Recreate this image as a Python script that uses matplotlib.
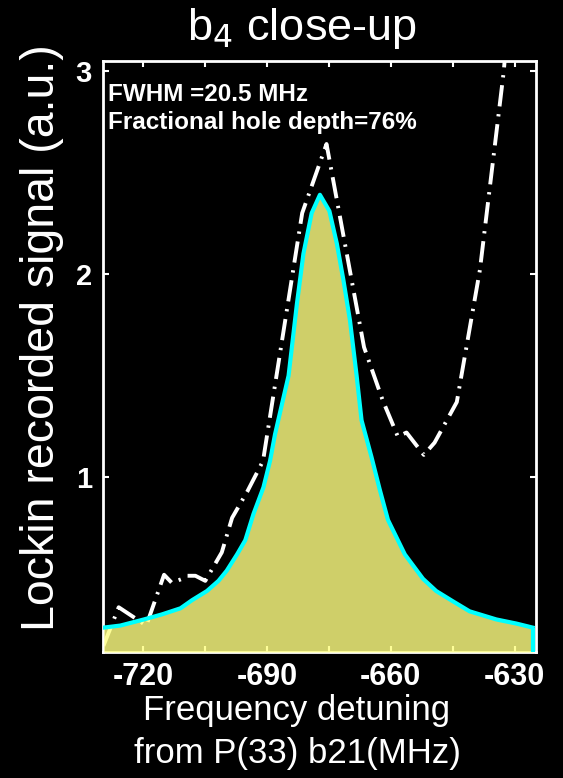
import matplotlib.pyplot as plt
from matplotlib.ticker import MultipleLocator

# fitted hole profile (cyan outline, filled)
fit_freq = [-729.6, -725.6, -719.9, -715.5, -711, -708.2, -704.6, -701.8, -699.8, -697.3,
            -695.3, -693.3, -690.9, -689.3, -688.1, -686.4, -684.8, -682.8, -681.2, -679.2,
            -677.2, -674.9, -673.1, -671.5, -669.9, -668.3, -667.1, -664.7, -662.7, -660.7,
            -656.6, -652.2, -649, -645, -640.9, -634.4, -629.6, -625.6]
fit_signal = [0.26, 0.27, 0.30, 0.325, 0.355, 0.395, 0.44, 0.49, 0.54, 0.62,
              0.69, 0.82, 0.95, 1.08, 1.21, 1.36, 1.50, 1.85, 2.10, 2.30,
              2.39, 2.31, 2.15, 1.97, 1.77, 1.50, 1.28, 1.10, 0.94, 0.79,
              0.62, 0.50, 0.44, 0.39, 0.34, 0.30, 0.28, 0.26]

# measured lockin trace (dash-dot)
meas_freq = [-729.7, -726.0, -719.3, -715.0, -713.1, -710.6, -709.5, -707.4, -705.0,
             -701.0, -698.5, -694.8, -691.0, -681.5, -675.6, -666.5, -662.0, -658.3,
             -656.2, -652.0, -649.4, -644.0, -638.4, -632.6, -631.4]
meas_signal = [0.17, 0.36, 0.27, 0.52, 0.48, 0.50, 0.515, 0.515, 0.49,
               0.63, 0.80, 0.93, 1.08, 2.30, 2.64, 1.64, 1.38, 1.20,
               1.22, 1.11, 1.17, 1.37, 2.02, 3.00, 3.30]

x_ticks = [-720, -690, -660, -630]
y_ticks = [1, 2, 3]
xlim = (-729.8, -624.8)
ylim = (0.14, 3.05)

plt.rcParams['font.family'] = ['Liberation Sans', 'DejaVu Sans']
plt.rcParams['axes.unicode_minus'] = False

fig = plt.figure(figsize=(5.63, 7.78), dpi=100, facecolor='black')
ax = fig.add_axes([0.183, 0.162, 0.769, 0.760])
ax.set_facecolor('black')

ax.plot(meas_freq, meas_signal, color='white', lw=2.8, dashes=(5.5, 2.0, 0.6, 2.0), zorder=2)
# semi-transparent fill sits over the white spine and trace
ax.fill_between(fit_freq, ylim[0], fit_signal, color='#fefe81', alpha=0.82, lw=0, zorder=3)
ax.plot(fit_freq, fit_signal, color='#00ffff', lw=3, zorder=4)
ax.vlines(fit_freq[-1], ylim[0], fit_signal[-1], color='#00ffff', lw=3, zorder=4)

ax.set_xlim(*xlim)
ax.set_ylim(*ylim)
ax.set_xticks(x_ticks)
ax.xaxis.set_minor_locator(MultipleLocator(15))
ax.set_yticks(y_ticks)

for s in ax.spines.values():
    s.set_color('white')
    s.set_linewidth(2)
ax.tick_params(which='both', direction='in', color='white', length=4, width=1.5,
               top=True, right=True, labelcolor='white', pad=7)
ax.tick_params(axis='x', which='major', labelsize=22)
ax.tick_params(axis='y', which='major', labelsize=21, pad=8)
for lab in ax.get_xticklabels() + ax.get_yticklabels():
    lab.set_fontweight('bold')

fig.text(0.536, 0.9486, 'b$_4$ close-up', color='white', fontsize=32.5,
         ha='center', va='baseline')
ax.set_ylabel('Lockin recorded signal (a.u.)', color='white', fontsize=33.5)
ax.yaxis.set_label_coords(-0.089, 0.531)
ax.set_xlabel('Frequency detuning\nfrom P(33) b21(MHz)', color='white', fontsize=25,
              linespacing=1.38)
ax.xaxis.set_label_coords(0.448, -0.071)

ax.text(0.012, 0.962, 'FWHM =20.5 MHz\nFractional hole depth=76%', transform=ax.transAxes,
        color='white', fontsize=17.5, fontweight='bold', va='top', ha='left', linespacing=1.25)

fig.savefig('out.png', dpi=100, facecolor='black')
